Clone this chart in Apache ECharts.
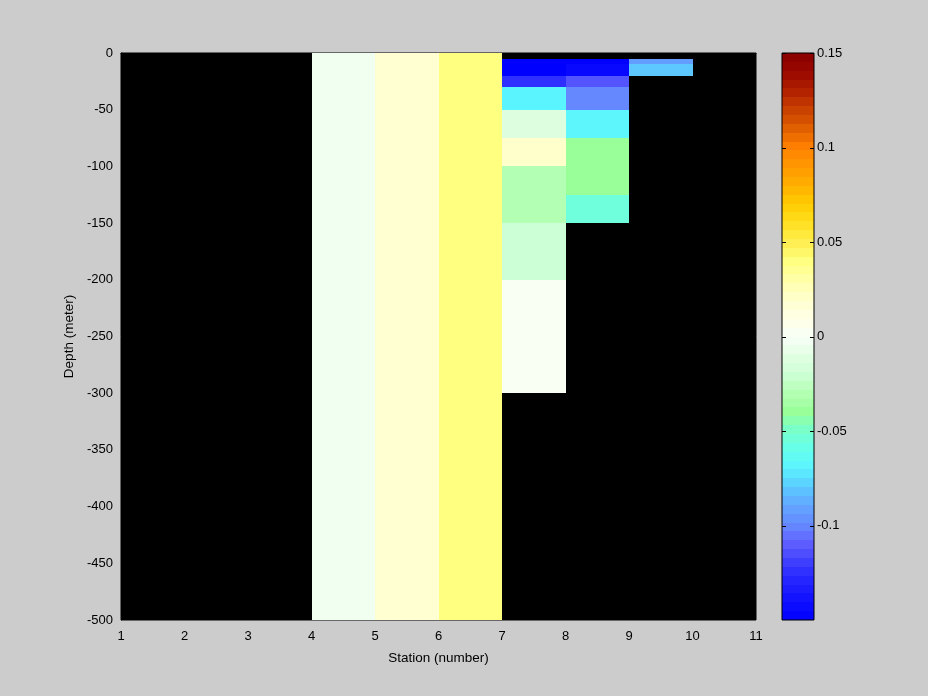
<!DOCTYPE html>
<html>
<head>
<meta charset="utf-8">
<style>
  html, body { margin: 0; padding: 0; background: #cccccc; }
  #chart { width: 928px; height: 696px; }
</style>
<script src="https://cdn.jsdelivr.net/npm/echarts@6/dist/echarts.min.js"></script>
</head>
<body>
<div id="chart"></div>
<script>
// ---- data ----
const cellStation = [4, 5, 6,
  7, 7, 7, 7, 7, 7, 7, 7,
  8, 8, 8, 8, 8, 8, 8, 8,
  9, 9];
const cellTop = [0, 0, 0,
  -5, -20, -30, -50, -75, -100, -150, -200,
  -5, -10, -20, -30, -50, -75, -100, -125,
  -5, -10];
const cellBottom = [-500, -500, -500,
  -20, -30, -50, -75, -100, -150, -200, -300,
  -10, -20, -30, -50, -75, -100, -125, -150,
  -10, -20];
const cellValue = [-0.003, 0.018, 0.04,
  -0.15, -0.125, -0.07, -0.012, 0.02, -0.03, -0.02, 0.003,
  -0.15, -0.145, -0.113, -0.10, -0.068, -0.04, -0.04, -0.055,
  -0.092, -0.08];

const xTicks = [1, 2, 3, 4, 5, 6, 7, 8, 9, 10, 11];
const yTicks = [0, -50, -100, -150, -200, -250, -300, -350, -400, -450, -500];
const cbarTicks = [0.15, 0.1, 0.05, 0, -0.05, -0.1];
const cbarMin = -0.15, cbarMax = 0.15, cbarLevels = 64;

const cmap = ['#0000FF', '#1010FF', '#2222FF', '#3C3CFF', '#5E5EFF', '#6688FF', '#62A4FF',
  '#5CC8FF', '#5AF4FF', '#66FFEE', '#77FFCC', '#99FF99', '#B3FFB3', '#CCFFD5', '#E2FFE2',
  '#F8FFF8', '#FFFFE6', '#FFFFCC', '#FFFFA8', '#FFFF80', '#FFEE50', '#FFE020', '#FFCC00',
  '#FFB000', '#FF9800', '#FF8000', '#E06000', '#C84000', '#B02000', '#9A0800', '#880000'];

// ---- build series data ----
const cells = cellStation.map((s, i) => [s, s + 1, cellTop[i], cellBottom[i], cellValue[i]]);
const bands = [];
const step = (cbarMax - cbarMin) / cbarLevels;
for (let k = 0; k < cbarLevels; k++) {
  const lo = cbarMin + k * step, hi = lo + step;
  bands.push([0, 1, hi, lo, (lo + hi) / 2]);
}

function rectItem(params, api) {
  const p0 = api.coord([api.value(0), api.value(2)]);
  const p1 = api.coord([api.value(1), api.value(3)]);
  const x0 = Math.round(Math.min(p0[0], p1[0])), x1 = Math.round(Math.max(p0[0], p1[0]));
  const y0 = Math.round(Math.min(p0[1], p1[1])), y1 = Math.round(Math.max(p0[1], p1[1]));
  return {
    type: 'rect',
    shape: { x: x0, y: y0, width: x1 - x0, height: y1 - y0 },
    style: { fill: api.visual('color'), stroke: null, lineWidth: 0 }
  };
}

function tickItem(params, api) {
  const l = api.coord([0, api.value(0)]);
  const r = api.coord([1, api.value(0)]);
  const y = Math.round(l[1]) + 0.5;
  return {
    type: 'group',
    children: [
      { type: 'line', shape: { x1: l[0], y1: y, x2: l[0] + 4, y2: y }, style: { stroke: '#000', lineWidth: 1 } },
      { type: 'line', shape: { x1: r[0] - 4, y1: y, x2: r[0], y2: y }, style: { stroke: '#000', lineWidth: 1 } }
    ]
  };
}

const font = 'Liberation Sans';
const chart = echarts.init(document.getElementById('chart'), null, { renderer: 'canvas' });
chart.setOption({
  backgroundColor: '#cccccc',
  animation: false,
  textStyle: { fontFamily: font },
  visualMap: {
    show: false, type: 'continuous', min: cbarMin, max: cbarMax,
    dimension: 4, seriesIndex: [0, 1], inRange: { color: cmap }
  },
  grid: [
    { left: 121, top: 53, width: 635, height: 567, show: true, backgroundColor: '#000000',
      borderColor: '#000000', borderWidth: 1 },
    { left: 782, top: 53, width: 32, height: 567, show: true, backgroundColor: 'transparent',
      borderColor: '#000000', borderWidth: 1, z: 10, zlevel: 1 }
  ],
  xAxis: [
    { type: 'value', gridIndex: 0, min: 1, max: 11, interval: 1,
      name: 'Station (number)', nameLocation: 'middle', nameGap: 31,
      nameTextStyle: { color: '#000', fontSize: 13.5, fontFamily: font },
      axisLine: { show: true, lineStyle: { color: '#000' } },
      axisTick: { show: false }, splitLine: { show: false },
      axisLabel: { color: '#000', fontSize: 13, fontFamily: font, margin: 10 } },
    { type: 'value', gridIndex: 1, min: 0, max: 1, show: false }
  ],
  yAxis: [
    { type: 'value', gridIndex: 0, min: -500, max: 0, interval: 50,
      name: 'Depth (meter)', nameLocation: 'middle', nameGap: 39, nameRotate: 90,
      nameTextStyle: { color: '#000', fontSize: 13.5, fontFamily: font },
      axisLine: { show: true, lineStyle: { color: '#000' } },
      axisTick: { show: false }, splitLine: { show: false },
      axisLabel: { color: '#000', fontSize: 13, fontFamily: font, margin: 8 } },
    { type: 'value', gridIndex: 1, min: cbarMin, max: cbarMax, interval: 0.05, position: 'right',
      axisLine: { show: false }, axisTick: { show: false }, splitLine: { show: false },
      axisLabel: { color: '#000', fontSize: 13, fontFamily: font, margin: 3,
        formatter: v => { const r = Math.round(v * 100) / 100; return cbarTicks.includes(r) ? String(r) : ''; } } }
  ],
  series: [
    { type: 'custom', xAxisIndex: 0, yAxisIndex: 0, data: cells, renderItem: rectItem,
      encode: { x: [0, 1], y: [2, 3] } },
    { type: 'custom', xAxisIndex: 1, yAxisIndex: 1, data: bands, renderItem: rectItem,
      encode: { x: [0, 1], y: [2, 3] } },
    { type: 'custom', xAxisIndex: 1, yAxisIndex: 1, z: 5, data: cbarTicks.map(v => [v]),
      renderItem: tickItem, encode: { y: 0 } }
  ]
});
</script>
</body>
</html>
